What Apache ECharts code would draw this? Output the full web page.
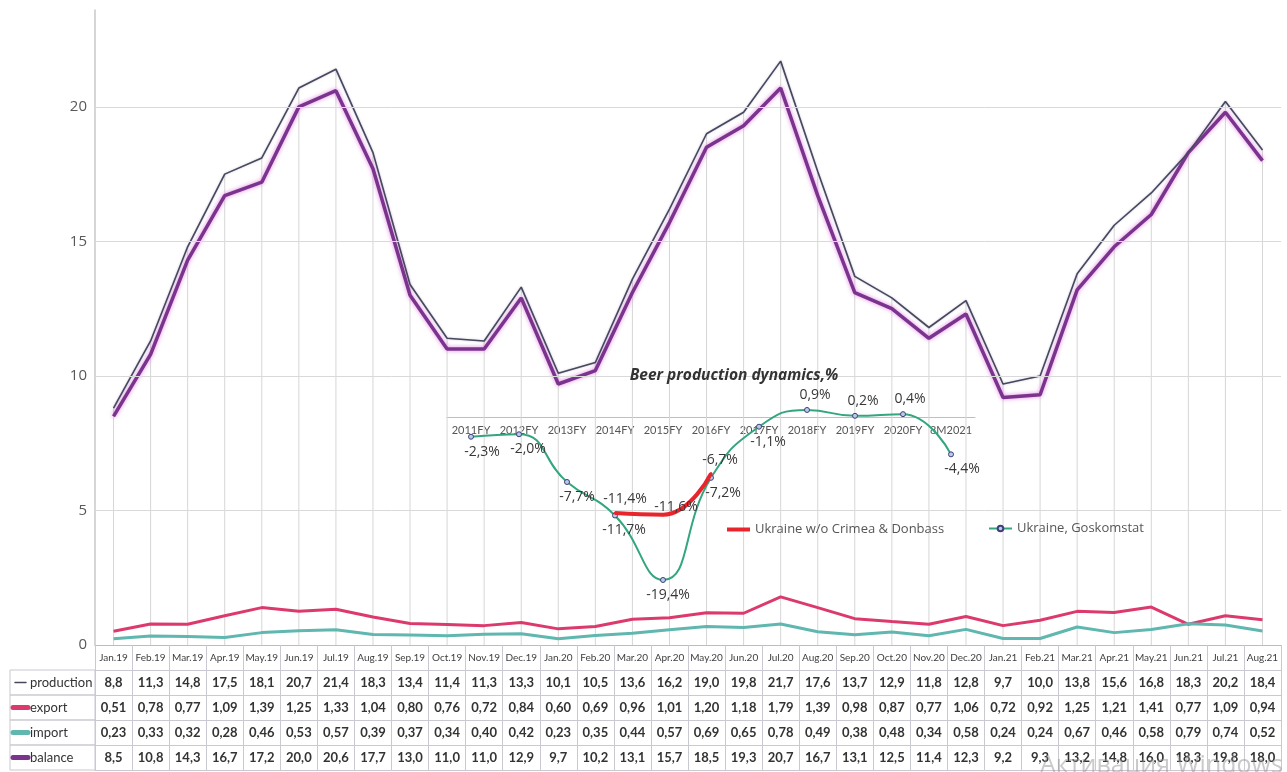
<!DOCTYPE html>
<html>
<head>
<meta charset="utf-8">
<title>Beer market balance, Ukraine</title>
<script src="https://cdn.jsdelivr.net/npm/echarts@6/dist/echarts.min.js"></script>
<style>
  html, body { margin: 0; padding: 0; background: #fff; }
  #chart { width: 1287px; height: 772px; }
</style>
</head>
<body>
<div id="chart"></div>
<script>
// Monthly beer market balance (table under the chart uses the same arrays)
const months = ['Jan.19','Feb.19','Mar.19','Apr.19','May.19','Jun.19','Jul.19','Aug.19','Sep.19','Oct.19','Nov.19','Dec.19',
                'Jan.20','Feb.20','Mar.20','Apr.20','May.20','Jun.20','Jul.20','Aug.20','Sep.20','Oct.20','Nov.20','Dec.20',
                'Jan.21','Feb.21','Mar.21','Apr.21','May.21','Jun.21','Jul.21','Aug.21'];
const production = [8.8, 11.3, 14.8, 17.5, 18.1, 20.7, 21.4, 18.3, 13.4, 11.4, 11.3, 13.3,
                    10.1, 10.5, 13.6, 16.2, 19.0, 19.8, 21.7, 17.6, 13.7, 12.9, 11.8, 12.8,
                    9.7, 10.0, 13.8, 15.6, 16.8, 18.3, 20.2, 18.4];
const exportVol = [0.51, 0.78, 0.77, 1.09, 1.39, 1.25, 1.33, 1.04, 0.80, 0.76, 0.72, 0.84,
                   0.60, 0.69, 0.96, 1.01, 1.20, 1.18, 1.79, 1.39, 0.98, 0.87, 0.77, 1.06,
                   0.72, 0.92, 1.25, 1.21, 1.41, 0.77, 1.09, 0.94];
const importVol = [0.23, 0.33, 0.32, 0.28, 0.46, 0.53, 0.57, 0.39, 0.37, 0.34, 0.40, 0.42,
                   0.23, 0.35, 0.44, 0.57, 0.69, 0.65, 0.78, 0.49, 0.38, 0.48, 0.34, 0.58,
                   0.24, 0.24, 0.67, 0.46, 0.58, 0.79, 0.74, 0.52];
const balance = [8.5, 10.8, 14.3, 16.7, 17.2, 20.0, 20.6, 17.7, 13.0, 11.0, 11.0, 12.9,
                 9.7, 10.2, 13.1, 15.7, 18.5, 19.3, 20.7, 16.7, 13.1, 12.5, 11.4, 12.3,
                 9.2, 9.3, 13.2, 14.8, 16.0, 18.3, 19.8, 18.0];
const yTickValues = [0, 5, 10, 15, 20];

// Inset: yearly beer production dynamics, %
const years = ['2011FY','2012FY','2013FY','2014FY','2015FY','2016FY','2017FY','2018FY','2019FY','2020FY','8M2021'];
const goskomstat = [-2.3, -2.0, -7.7, -11.7, -19.4, -7.2, -1.1, 0.9, 0.2, 0.4, -4.4];
const withoutCrimeaDonbass = [null, null, null, -11.4, -11.6, -6.7, null, null, null, null, null];

const rowNames = ['production', 'export', 'import', 'balance'];

// styling
const tableFont = "Lato, Roboto, sans-serif";
const sans = "'Open Sans', 'Noto Sans', sans-serif";
const border = '#c9c9d1';
const colors = {
  production: '#47475f',
  export: '#dc3a6d',
  import: '#5fb7af',
  balance: '#7a348e'
};
const redColor = '#e8252d';
const greenColor = '#33a67e';

const fmt = (v, d) => v.toFixed(d).replace('.', ',');

const rowH = 25;
const tableTop = 645;

function rowAxis(offset, values, digits) {
  return {
    type: 'category', gridIndex: 0, position: 'bottom', offset: offset,
    data: months, boundaryGap: true,
    axisLine: { show: true, lineStyle: { color: border, width: 1 } },
    axisTick: { show: !!values, length: rowH, interval: 0, lineStyle: { color: border } },
    axisLabel: values ? {
      show: true, interval: 0, margin: 6,
      fontFamily: tableFont, fontSize: 13, fontWeight: 'bold', color: '#333',
      formatter: (v, i) => fmt(values[i], digits)
    } : { show: false },
    splitLine: { show: false }
  };
}

// row header cells of the table with their series keys
const graphics = [];
const keyStyles = [
  { color: colors.production, width: 1.5 },
  { color: colors.export, width: 5 },
  { color: colors.import, width: 5 },
  { color: colors.balance, width: 5 }
];
rowNames.forEach((name, i) => {
  const y0 = tableTop + rowH * (i + 1);
  graphics.push({
    type: 'rect', shape: { x: 10, y: y0, width: 85, height: rowH },
    style: { fill: 'none', stroke: border, lineWidth: 1 }, silent: true
  });
  const k = keyStyles[i];
  graphics.push({
    type: 'line',
    shape: { x1: i === 0 ? 15 : 13, y1: y0 + rowH / 2, x2: i === 0 ? 26 : 28, y2: y0 + rowH / 2 },
    style: { stroke: k.color, lineWidth: k.width, lineCap: 'round' }, silent: true
  });
  graphics.push({
    type: 'text', x: 30, y: y0 + rowH / 2,
    style: { text: name, fill: '#333', font: '13px ' + tableFont, verticalAlign: 'middle' },
    silent: true
  });
});

// inset title
graphics.push({
  type: 'text', x: 734, y: 376,
  style: {
    text: 'Beer production dynamics,%', fill: '#333',
    font: 'italic bold 15.5px ' + sans, align: 'center', verticalAlign: 'middle'
  },
  silent: true, z: 10
});

// faint system watermark at the bottom edge
graphics.push({
  type: 'text', x: 1040, y: 753,
  style: { text: 'Активация Windows', fill: 'rgba(150,150,150,0.5)', font: '25px ' + sans },
  silent: true, z: 20
});

const gPos = ['bottom','bottom','bottom','bottom','bottom','bottom','bottom','top','top','top','bottom'];
const gOff = [[11,0],[9,0],[10,0],[9,0],[5,0],[12,0],[9,0],[8,0],[8,0],[7,0],[11,0]];
const rPos = [null, null, null, 'top', 'top', 'top'];
const rOff = [null, null, null, [10,0], [13,6], [9,0]];

const pctLabel = {
  show: true, fontFamily: sans, fontSize: 14, fontWeight: 500, color: '#383838',
  formatter: p => fmt(p.value, 1) + '%'
};

const option = {
  animation: false,
  backgroundColor: '#fff',
  grid: [
    { left: 95, right: 6, top: 10, bottom: 127 },
    // inset: the grid spans 0..4 %, negative values run below its bottom edge (the zero line)
    { left: 447, top: 384, width: 528, height: 33.5 }
  ],
  xAxis: [
    {
      type: 'category', gridIndex: 0, data: months, boundaryGap: true,
      axisLine: { show: true, lineStyle: { color: '#bdbdbd' } },
      axisTick: { show: true, length: rowH, interval: 0, lineStyle: { color: border } },
      axisLabel: { interval: 0, margin: 8, fontFamily: tableFont, fontSize: 10, color: '#404040' },
      splitLine: { show: false }
    },
    rowAxis(rowH * 1, production, 1),
    rowAxis(rowH * 2, exportVol, 2),
    rowAxis(rowH * 3, importVol, 2),
    rowAxis(rowH * 4, balance, 1),
    rowAxis(rowH * 5, null, 0),
    {
      type: 'category', gridIndex: 1, data: years, boundaryGap: true, position: 'bottom',
      axisLine: { show: true, onZero: false, lineStyle: { color: '#bfbfbf' } },
      axisTick: { show: false },
      axisLabel: { interval: 0, margin: 7, fontFamily: tableFont, fontSize: 11, color: '#555' },
      splitLine: { show: false }
    }
  ],
  yAxis: [
    {
      type: 'value', gridIndex: 0, min: 0, max: 23.6, interval: 5,
      axisLine: { show: true, lineStyle: { color: '#c8c8c8', width: 1.5 } },
      axisTick: { show: false },
      axisLabel: {
        margin: 8, fontFamily: sans, fontSize: 15, color: '#595959',
        formatter: v => (yTickValues.indexOf(v) >= 0 ? String(v) : '')
      },
      splitLine: { show: false }
    },
    {
      type: 'value', gridIndex: 1, min: 0, max: 4, show: false,
      splitLine: { show: false }
    }
  ],
  legend: [
    {
      data: [{ name: 'Ukraine w/o Crimea & Donbass', icon: 'rect', itemStyle: { color: redColor, opacity: 1 } }],
      left: 722, top: 518, itemWidth: 23, itemHeight: 4,
      textStyle: { fontFamily: sans, fontSize: 13, color: '#555' }
    },
    {
      data: ['Ukraine, Goskomstat'],
      left: 983, top: 517, itemWidth: 23, itemHeight: 7,
      textStyle: { fontFamily: sans, fontSize: 13, color: '#555' }
    }
  ],
  graphic: graphics,
  series: [
    {
      // drop lines from production down to the axis, plus horizontal gridlines
      name: 'drop', type: 'bar', xAxisIndex: 0, yAxisIndex: 0,
      data: production, barWidth: 1, silent: true, z: 1,
      itemStyle: { color: '#d6d6d6' },
      markLine: {
        silent: true, symbol: 'none', label: { show: false },
        lineStyle: { color: '#d9d9d9', width: 1, type: 'solid' },
        data: yTickValues.filter(v => v > 0).map(v => ({ yAxis: v }))
      }
    },
    {
      name: 'balance', type: 'line', xAxisIndex: 0, yAxisIndex: 0, data: balance,
      symbol: 'none', z: 3,
      lineStyle: { color: colors.balance, width: 3.5, shadowColor: 'rgba(222,120,222,0.9)', shadowBlur: 4 }
    },
    {
      name: 'production', type: 'line', xAxisIndex: 0, yAxisIndex: 0, data: production,
      symbol: 'none', z: 4,
      lineStyle: { color: colors.production, width: 1.6, shadowColor: 'rgba(120,120,150,0.45)', shadowBlur: 2 }
    },
    {
      name: 'export', type: 'line', xAxisIndex: 0, yAxisIndex: 0, data: exportVol,
      symbol: 'none', z: 3,
      lineStyle: { color: colors.export, width: 3 }
    },
    {
      name: 'import', type: 'line', xAxisIndex: 0, yAxisIndex: 0, data: importVol,
      symbol: 'none', z: 3,
      lineStyle: { color: colors.import, width: 3 }
    },
    {
      name: 'Ukraine, Goskomstat', type: 'line', xAxisIndex: 6, yAxisIndex: 1,
      smooth: 0.5, z: 6, clip: false,
      data: goskomstat.map((v, i) => ({ value: v, label: { position: gPos[i], offset: gOff[i] } })),
      symbol: 'circle', symbolSize: 5,
      itemStyle: { color: '#b9cbe8', borderColor: '#3e3e7a', borderWidth: 1 },
      lineStyle: { color: greenColor, width: 2 },
      label: pctLabel
    },
    {
      name: 'Ukraine w/o Crimea & Donbass', type: 'line', xAxisIndex: 6, yAxisIndex: 1,
      smooth: 0.5, z: 7, clip: false, connectNulls: false,
      data: withoutCrimeaDonbass.map((v, i) => (v === null ? null :
        { value: v, label: { show: true, position: rPos[i], offset: rOff[i] } })),
      symbol: 'circle', symbolSize: 3, showSymbol: true,
      itemStyle: { color: redColor },
      lineStyle: { color: redColor, width: 4 },
      label: pctLabel
    }
  ]
};

const chart = echarts.init(document.getElementById('chart'), null, { renderer: 'canvas' });
chart.setOption(option);
</script>
</body>
</html>
